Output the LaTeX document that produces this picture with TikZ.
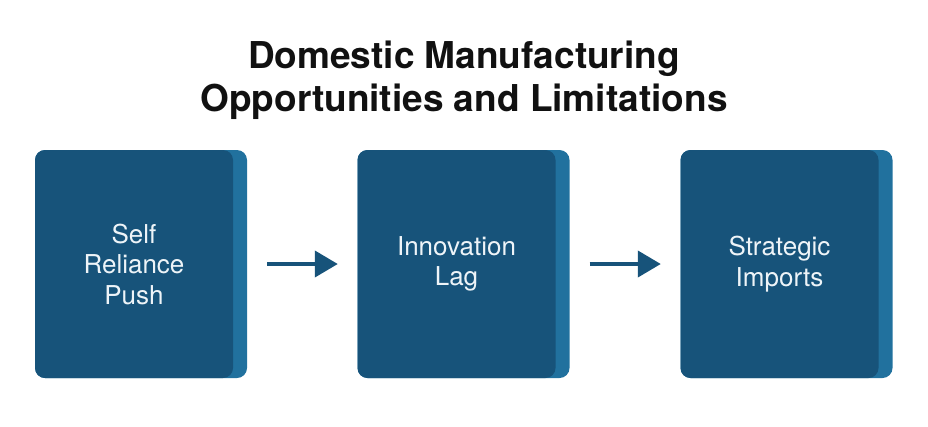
\documentclass[tikz,border=0pt]{standalone}
\usepackage{fontspec}
\setmainfont{TeX Gyre Heros}
\usetikzlibrary{arrows.meta}
\definecolor{boxfront}{HTML}{17537A}
\definecolor{boxback}{HTML}{21719E}
\definecolor{boxtext}{HTML}{EEF4F8}
\definecolor{titletext}{HTML}{111111}

\begin{document}
\begin{tikzpicture}[x=1pt, y=-1pt,
  title/.style={anchor=base, text=titletext, font=\fontsize{37}{42}\selectfont\bfseries},
  back/.style={rectangle, rounded corners=10pt, fill=boxback, inner sep=0pt, minimum width=212pt, minimum height=228pt},
  front/.style={rectangle, rounded corners=10pt, fill=boxfront, inner sep=0pt, minimum width=198pt, minimum height=228pt, text=boxtext, align=center, font=\fontsize{26}{30.5}\selectfont},
  flow/.style={boxfront, line width=4pt, -{Triangle[length=23pt, width=26pt]}, shorten <=20pt, shorten >=19.5pt}]
\useasboundingbox (0,0) rectangle (928,426);
\node[title] (t1) at (464,68) {Domestic Manufacturing};
\node[title] (t2) at (464,111) {Opportunities and Limitations};
\node[back] (b1) at (141,264) {};
\node[back] (b2) at (463.5,264) {};
\node[back] (b3) at (786.5,264) {};
\node[front] (f1) at (134,264) {Self\\Reliance\\Push};
\node[front] (f2) at (456.5,264) {Innovation\\Lag};
\node[front] (f3) at (779.5,264) {Strategic\\Imports};
\draw[flow] (b1.east) -- (f2.west);
\draw[flow] (b2.east) -- (f3.west);
\end{tikzpicture}
\end{document}
